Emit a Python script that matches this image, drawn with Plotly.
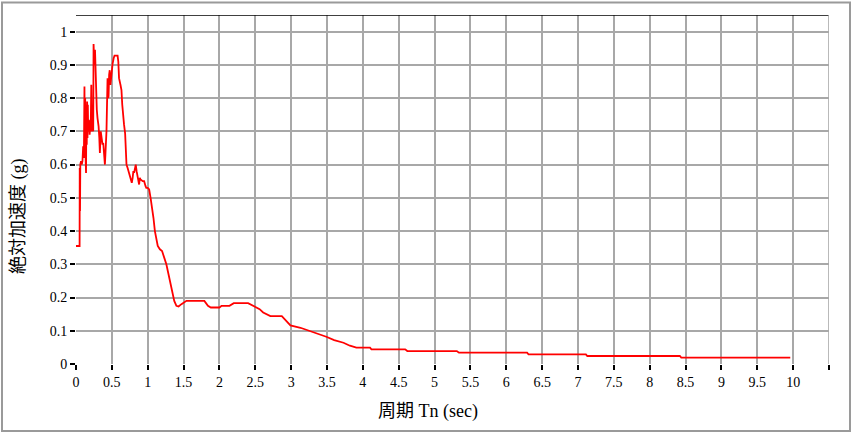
import plotly.graph_objects as go

# Period (s) and absolute acceleration (g)
period = [0.0, 0.05, 0.052, 0.056, 0.06, 0.07, 0.08, 0.09, 0.1, 0.11, 0.118, 0.122, 0.128, 0.134, 0.14,
          0.145, 0.15, 0.155, 0.16, 0.165, 0.17, 0.18, 0.19, 0.2, 0.205, 0.213, 0.22, 0.23, 0.24, 0.245,
          0.255, 0.265, 0.27, 0.28, 0.29, 0.3, 0.315, 0.325, 0.333, 0.345, 0.356, 0.37, 0.38, 0.39, 0.403,
          0.41, 0.417, 0.425, 0.44, 0.447, 0.454, 0.462, 0.47, 0.48, 0.49, 0.51, 0.525, 0.537, 0.56, 0.58,
          0.59, 0.6, 0.62, 0.634, 0.645, 0.657, 0.67, 0.685, 0.695, 0.704, 0.72, 0.74, 0.76, 0.778, 0.79,
          0.8, 0.81, 0.82, 0.833, 0.845, 0.856, 0.87, 0.88, 0.89, 0.9, 0.93, 0.95, 0.97, 0.98, 1.0,
          1.02, 1.04, 1.06, 1.08, 1.1, 1.12, 1.14, 1.17, 1.2, 1.23, 1.26, 1.29, 1.32, 1.35, 1.37,
          1.4, 1.43, 1.47, 1.54, 1.65, 1.79, 1.84, 1.88, 2.0, 2.03, 2.14, 2.2, 2.4, 2.47, 2.52,
          2.56, 2.61, 2.66, 2.71, 2.87, 2.93, 2.99, 3.13, 3.31, 3.49, 3.6, 3.73, 3.82, 3.91, 4.1,
          4.12, 4.59, 4.62, 5.31, 5.34, 6.29, 6.31, 7.11, 7.13, 8.42, 8.44, 9.96]
accel = [0.355, 0.355, 0.59, 0.46, 0.6, 0.61, 0.6, 0.61, 0.655, 0.62, 0.835, 0.66, 0.8, 0.62, 0.575,
         0.78, 0.66, 0.79, 0.68, 0.78, 0.7, 0.735, 0.69, 0.72, 0.7, 0.84, 0.7, 0.74, 0.7, 0.963,
         0.9, 0.945, 0.9, 0.77, 0.765, 0.74, 0.715, 0.68, 0.635, 0.7, 0.685, 0.66, 0.665, 0.64, 0.6,
         0.63, 0.665, 0.7, 0.86, 0.8, 0.805, 0.87, 0.884, 0.84, 0.87, 0.903, 0.92, 0.928, 0.928, 0.928,
         0.91, 0.86, 0.84, 0.824, 0.78, 0.744, 0.72, 0.694, 0.63, 0.6, 0.59, 0.575, 0.56, 0.545, 0.56,
         0.58, 0.575, 0.59, 0.6, 0.58, 0.57, 0.55, 0.54, 0.56, 0.555, 0.55, 0.55, 0.535, 0.53, 0.53,
         0.525, 0.5, 0.475, 0.44, 0.4, 0.37, 0.355, 0.345, 0.34, 0.32, 0.3, 0.27, 0.24, 0.21, 0.19,
         0.175, 0.173, 0.18, 0.19, 0.19, 0.19, 0.175, 0.17, 0.17, 0.175, 0.175, 0.183, 0.183, 0.176, 0.17,
         0.165, 0.155, 0.15, 0.144, 0.144, 0.13, 0.116, 0.109, 0.096, 0.082, 0.072, 0.064, 0.055, 0.049, 0.049,
         0.044, 0.044, 0.039, 0.039, 0.034, 0.034, 0.029, 0.029, 0.024, 0.024, 0.019, 0.019]

x_tickvals = [i * 0.5 for i in range(22)]
x_ticktext = ["0", "0.5", "1", "1.5", "2", "2.5", "3", "3.5", "4", "4.5", "5", "5.5",
              "6", "6.5", "7", "7.5", "8", "8.5", "9", "9.5", "10", ""]
y_tickvals = [i / 10 for i in range(11)]
y_ticktext = ["0", "0.1", "0.2", "0.3", "0.4", "0.5", "0.6", "0.7", "0.8", "0.9", "1"]

x_title = "周期 Tn (sec)"
y_title = "絶対加速度 (g)"

W, H = 853, 434
L, R, T, B = 76, 24, 15, 70
pw, ph = W - L - R, H - T - B


def px(xp):
    return (xp - L) / pw


def py(yp):
    return (H - B - yp) / ph


fig = go.Figure()
fig.add_trace(go.Scatter(x=period, y=accel, mode="lines",
                         line=dict(color="#ff0000", width=1.8), showlegend=False,
                         hoverinfo="skip"))

tickfont = dict(family="Liberation Serif", size=14, color="#000000")
titlefont = dict(family="Liberation Serif, Noto Sans CJK JP", size=18, color="#000000")

fig.update_layout(
    width=W, height=H,
    margin=dict(l=L, r=R, t=T, b=B),
    paper_bgcolor="#ffffff", plot_bgcolor="#ffffff",
    xaxis=dict(range=[0, 10.5], tickvals=x_tickvals, ticktext=x_ticktext,
               showgrid=True, gridcolor="#a8a8a8", gridwidth=1.6, zeroline=False,
               showline=False, ticks="outside", ticklen=5, tickwidth=1.5, tickcolor="#000000",
               tickfont=tickfont, fixedrange=True),
    yaxis=dict(range=[0, 1.05], tickvals=y_tickvals, ticktext=y_ticktext,
               showgrid=True, gridcolor="#a8a8a8", gridwidth=1.6, zeroline=False,
               showline=False, ticks="outside", ticklen=5, tickwidth=1.5, tickcolor="#000000",
               tickfont=tickfont, fixedrange=True),
    shapes=[
        dict(type="line", xref="x", yref="y", x0=0, x1=10.5, y0=1.05, y1=1.05,
             line=dict(color="#000000", width=1.6)),
        dict(type="line", xref="x", yref="y", x0=10.5, x1=10.5, y0=0, y1=1.05,
             line=dict(color="#a8a8a8", width=1.6)),
        dict(type="rect", xref="paper", yref="paper", x0=px(2), x1=px(850), y0=py(431), y1=py(2.5),
             line=dict(color="#9a9a9a", width=2), layer="below"),
    ],
    annotations=[
        dict(text=x_title, xref="paper", yref="paper", x=px(428), y=py(411),
             showarrow=False, xanchor="center", yanchor="middle", font=titlefont),
        dict(text=y_title, xref="paper", yref="paper", x=px(18), y=py(216),
             showarrow=False, xanchor="center", yanchor="middle", textangle=-90, font=titlefont),
    ],
)

fig.write_html("out.html", config={"displayModeBar": False},
               post_script="document.body.style.margin='0';document.body.style.overflow='hidden';")
